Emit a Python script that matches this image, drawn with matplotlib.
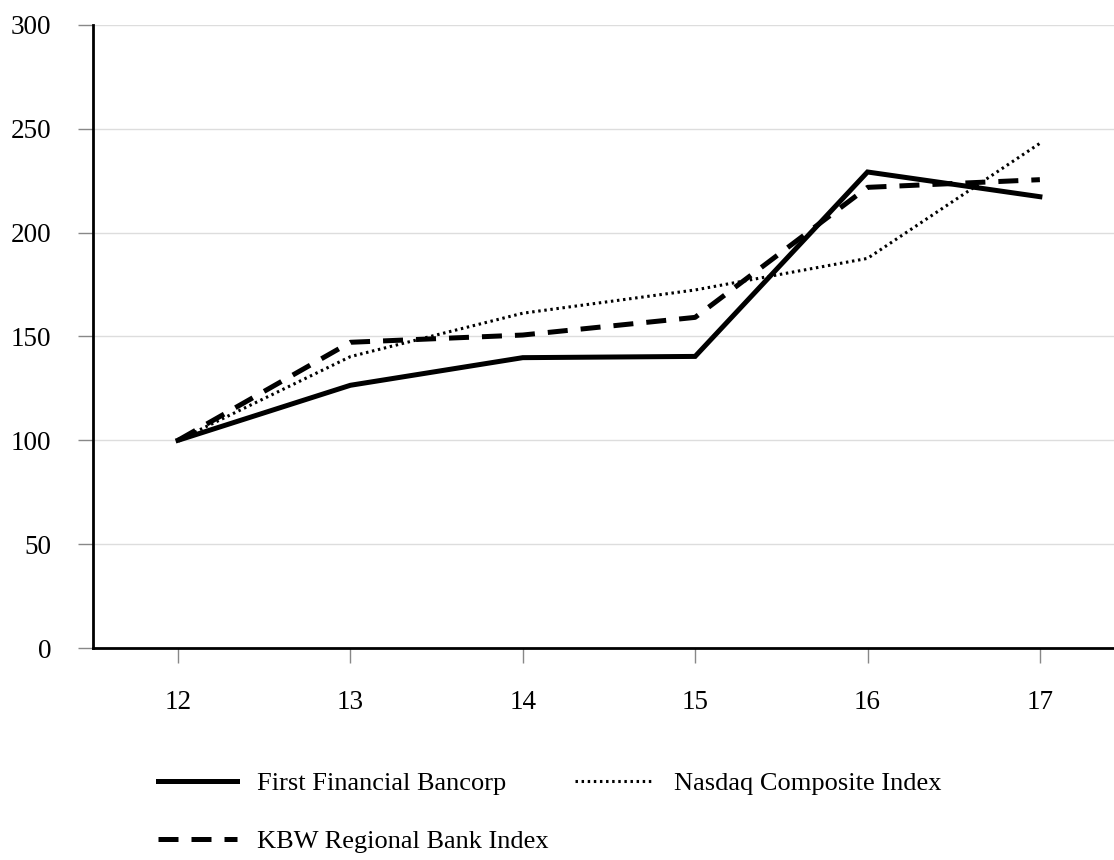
import matplotlib
matplotlib.use("Agg")
import matplotlib.pyplot as plt

years = [12, 13, 14, 15, 16, 17]
first_financial = [100, 126.5, 139.8, 140.4, 229.2, 217.3]
kbw_regional = [100, 147.2, 150.7, 159.2, 221.8, 225.5]
nasdaq = [100, 140.3, 161.2, 172.4, 187.6, 243.0]
y_ticks = [0, 50, 100, 150, 200, 250, 300]

plt.rcParams["font.family"] = ["Liberation Serif", "DejaVu Serif"]

fig = plt.figure(figsize=(11.14, 8.6), dpi=100)
ax = fig.add_axes([0.0835, 0.2465, 0.9165, 0.7245])

ax.plot(years, first_financial, color="black", linewidth=3.6,
        solid_joinstyle="miter", label="First Financial Bancorp")
ax.plot(years, kbw_regional, color="black", linewidth=3.6,
        dashes=(4, 2.6), label="KBW Regional Bank Index")
ax.plot(years, nasdaq, color="black", linewidth=2.2,
        dashes=(0.8, 1.2), label="Nasdaq Composite Index")

ax.set_xlim(11.507, 17.43)
ax.set_ylim(0, 300)
ax.set_xticks(years)
ax.set_yticks(y_ticks)
ax.grid(axis="y", color="#dddddd", linewidth=1)
ax.set_axisbelow(True)

for side in ["top", "right"]:
    ax.spines[side].set_visible(False)
for side in ["left", "bottom"]:
    ax.spines[side].set_linewidth(2)
    ax.spines[side].set_color("black")

ax.tick_params(axis="y", length=11, width=1, color="#888888", pad=19, labelsize=19.5)
ax.tick_params(axis="x", length=11, width=1, color="#888888", pad=19, labelsize=19.5)

handles, labels = ax.get_legend_handles_labels()
fig.legend(handles, labels, ncol=2, loc="upper left", bbox_to_anchor=(0.132, 0.115),
           frameon=False, fontsize=19, handlelength=3.0, handletextpad=0.76,
           columnspacing=1.0, labelspacing=1.3, borderaxespad=0)

fig.savefig("out.png", dpi=100)
